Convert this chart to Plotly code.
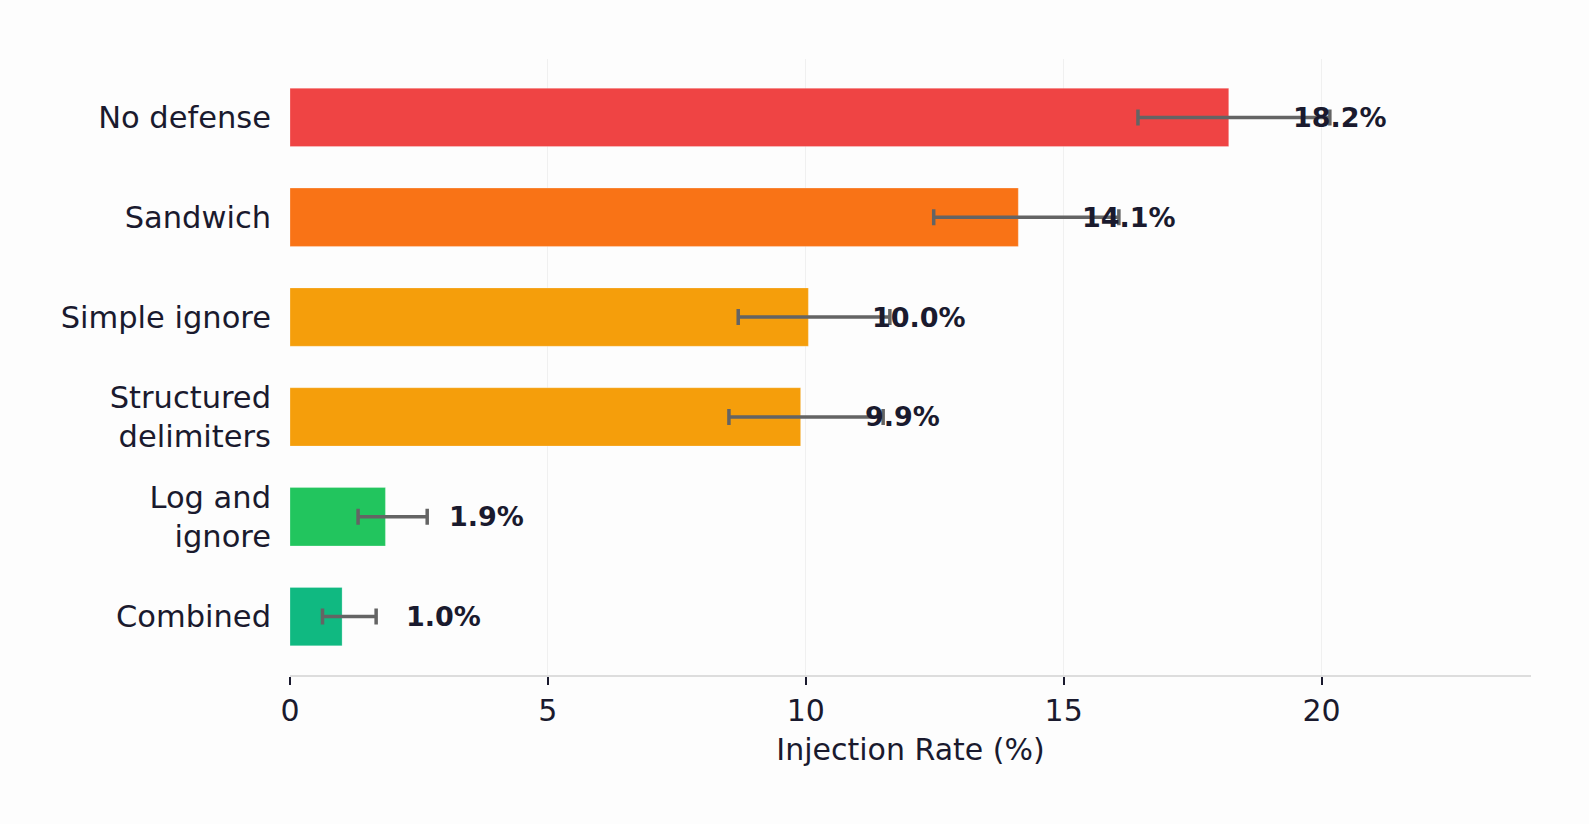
import plotly.graph_objects as go

# defenses, top to bottom
defenses = ['No defense', 'Sandwich', 'Simple ignore', 'Structured<br>delimiters', 'Log and<br>ignore', 'Combined']
rates = [18.2, 14.12, 10.05, 9.9, 1.85, 1.01]
ci_low = [16.44, 12.48, 8.69, 8.51, 1.32, 0.63]
ci_high = [20.16, 16.07, 11.63, 11.50, 2.66, 1.67]
rate_labels = ['18.2%', '14.1%', '10.0%', '9.9%', '1.9%', '1.0%']
bar_colors = ['#ef4444', '#f97316', '#f59e0b', '#f59e0b', '#22c55e', '#10b981']

TEXT = '#1a1a2e'
FONT = 'DejaVu Sans'

fig = go.Figure()

fig.add_trace(go.Bar(
    x=rates,
    y=defenses,
    orientation='h',
    marker=dict(color=bar_colors, line=dict(color='rgba(255,255,255,0.25)', width=1)),
    error_x=dict(
        type='data',
        symmetric=False,
        array=[h - r for h, r in zip(ci_high, rates)],
        arrayminus=[r - l for r, l in zip(rates, ci_low)],
        color='#646464',
        thickness=3.5,
        width=8,
    ),
    showlegend=False,
    hoverinfo='skip',
))

# value labels, placed a bit past the bar end
for d, r, t in zip(defenses, rates, rate_labels):
    fig.add_annotation(
        x=r + 1.2, y=d, text='<b>' + t + '</b>',
        xanchor='left', yanchor='middle', showarrow=False,
        font=dict(family=FONT, size=27, color=TEXT),
    )

fig.update_layout(
    width=1589, height=824,
    margin=dict(l=290, r=58, t=59, b=149),
    paper_bgcolor='#fdfdfd',
    plot_bgcolor='#fdfdfd',
    font=dict(family=FONT, size=30, color=TEXT),
    bargap=0.415,
)

fig.update_xaxes(
    range=[0, 24.06],
    tickvals=[0, 5, 10, 15, 20],
    showgrid=True, gridcolor='#f0f0f0', gridwidth=1,
    zeroline=False,
    showline=True, linecolor='#dddddd', linewidth=2,
    ticks='outside', ticklen=8, tickwidth=2, tickcolor=TEXT,
    tickfont=dict(size=30),
    title=dict(text='Injection Rate (%)', font=dict(size=30), standoff=12),
)

fig.update_yaxes(
    range=[5.585, -0.585],
    showgrid=False, zeroline=False, showline=False,
    ticks='', ticklabelstandoff=18,
    tickfont=dict(size=30.5),
)

# drop the default page margin so the figure sits flush in the window
fig.write_html("out.html", config={'displayModeBar': False},
               post_script="document.body.style.margin='0';")
